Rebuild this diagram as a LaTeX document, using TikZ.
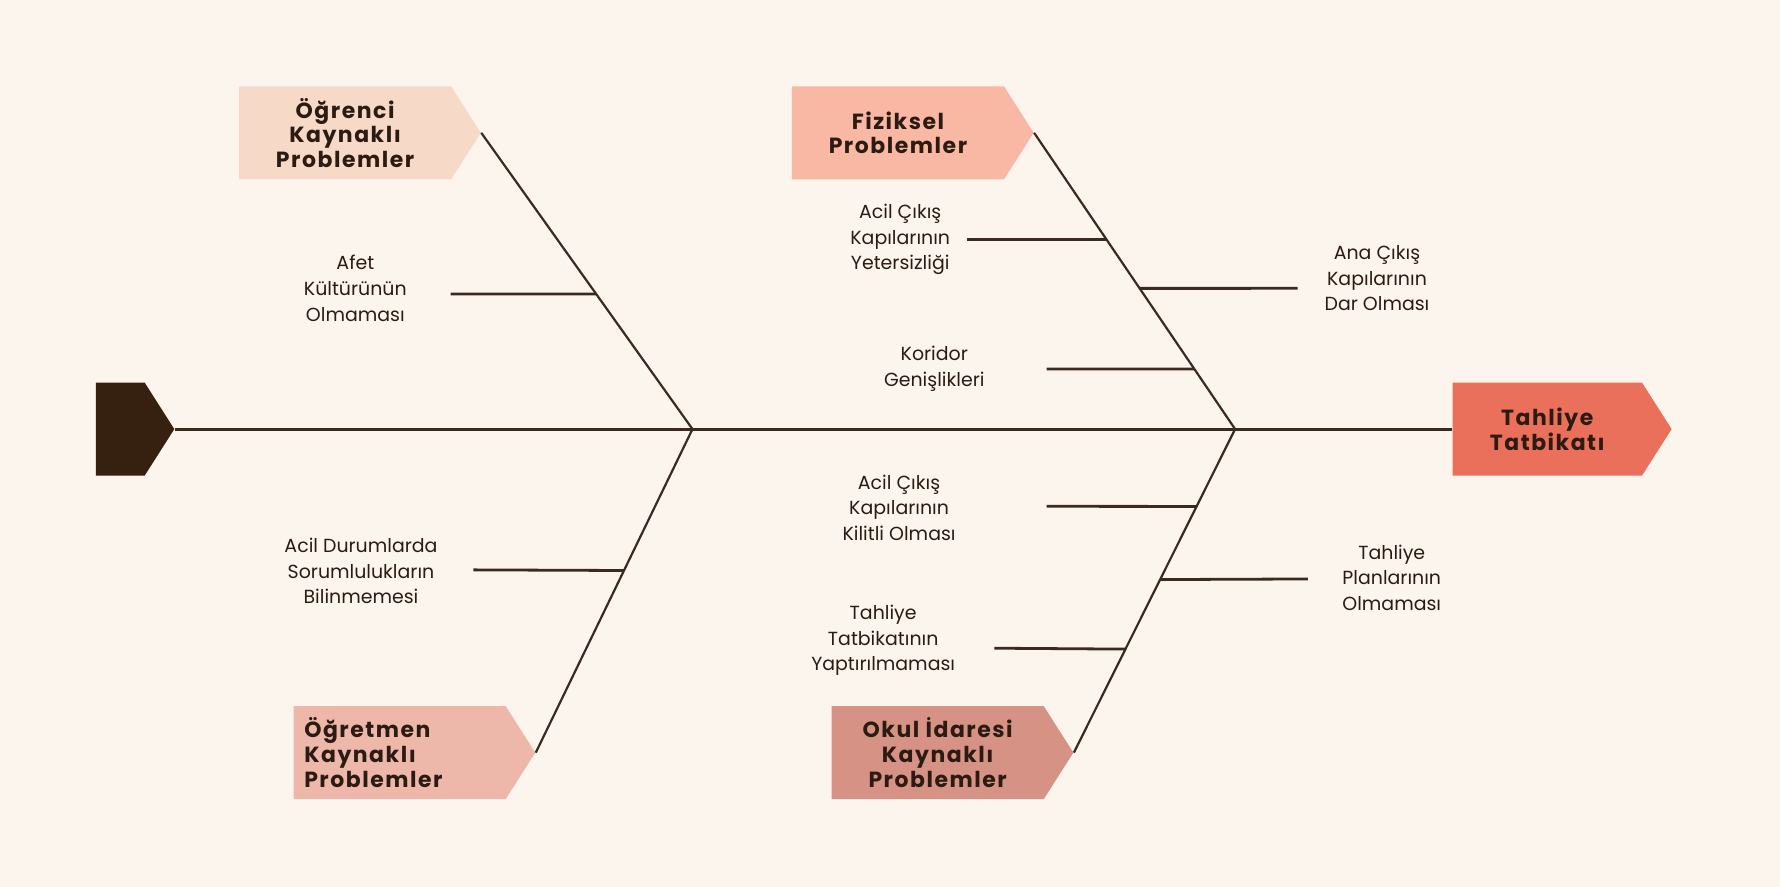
\documentclass[tikz,border=0pt]{standalone}
\usepackage{fontspec}
\setmainfont{Poppins}
\usetikzlibrary{shapes.symbols,calc}
\definecolor{paper}{HTML}{FCF5EE}
\definecolor{ink}{HTML}{2B1B12}
\definecolor{bone}{HTML}{3A2A20}
\definecolor{ogrc}{HTML}{F6D9C6}
\definecolor{fizik}{HTML}{F9B8A3}
\definecolor{ogrt}{HTML}{EDB7A9}
\definecolor{okul}{HTML}{D69284}
\definecolor{head}{HTML}{EA705B}
\definecolor{tail}{HTML}{36200F}

\begin{document}
\begin{tikzpicture}[x = 0.02cm, y = -0.02cm,
    cat/.style = {shape = signal, signal to = east, signal pointer angle = 115,
        minimum height = 1.64cm, minimum width = 4.26cm, inner sep = 0pt,
        text = ink, font = \bfseries\fontsize{11}{12.4}\selectfont\addfontfeatures{LetterSpace = 7}, align = center},
    cause/.style = {text = ink, font = \fontsize{9.5}{12.8}\selectfont, align = center, inner sep = 0pt},
    bonel/.style = {draw = bone, line width = 1.1pt},
    rib/.style = {draw = bone, line width = 1.4pt}]
    \fill[paper] (0,0) rectangle (1568,781);
    \node[cat, fill = tail, minimum width = 1.38cm] (tail) at (106,378) {};
    \node[cat, fill = head, minimum width = 3.86cm] (tahliye) at (1363,378) {Tahliye\\Tatbikatı};
    \node[cat, fill = ogrc] (ogrenci) at (304,117) {Öğrenci\\Kaynaklı\\Problemler};
    \node[cat, fill = fizik] (fiziksel) at (791,117) {Fiziksel\\Problemler};
    \node[cat, fill = ogrt, align = left, text width = 3.36cm] (ogretmen) at (352,663) {Öğretmen\\Kaynaklı\\Problemler};
    \node[cat, fill = okul] (okul) at (826,663) {Okul İdaresi\\Kaynaklı\\Problemler};
    \coordinate (j1) at (610,378);
    \coordinate (j2) at (1088,378);
    \draw[rib] (tail.east) -- (tahliye.west);
    \draw[bonel] (ogrenci.east) -- (j1);
    \draw[bonel] (ogretmen.east) -- (j1);
    \draw[bonel] (fiziksel.east) -- (j2);
    \draw[bonel] (okul.east) -- (j2);

    \node[cause] (afet) at (313,254) {Afet\\Kültürünün\\Olmaması};
    \node[cause] (sorum) at (318,503) {Acil Durumlarda\\Sorumlulukların\\Bilinmemesi};
    \node[cause] (yeter) at (793,211) {Acil Çıkış\\Kapılarının\\Yetersizliği};
    \node[cause] (dar) at (1213,245) {Ana Çıkış\\Kapılarının\\Dar Olması};
    \node[cause] (koridor) at (823,325) {Koridor\\Genişlikleri};
    \node[cause] (kilit) at (792,447) {Acil Çıkış\\Kapılarının\\Kilitli Olması};
    \node[cause] (plan) at (1226,509) {Tahliye\\Planlarının\\Olmaması};
    \node[cause] (tatbik) at (778,564) {Tahliye\\Tatbikatının\\Yaptırılmaması};

    \coordinate (afet-r) at (397,259);
    \coordinate (sorum-r) at (417,502);
    \coordinate (yeter-r) at (852,211);
    \coordinate (dar-r) at (1143,254);
    \coordinate (koridor-r) at (922,325);
    \coordinate (kilit-r) at (922,446);
    \coordinate (plan-r) at (1152,510);
    \coordinate (tatbik-r) at (876,571);
    \draw[rib] (afet-r) -- ($(ogrenci.east)!0.544!(j1)$);
    \draw[rib] (sorum-r) -- ($(ogretmen.east)!0.563!(j1)$);
    \draw[rib] (yeter-r) -- ($(fiziksel.east)!0.360!(j2)$);
    \draw[rib] (dar-r) -- ($(fiziksel.east)!0.525!(j2)$);
    \draw[rib] (koridor-r) -- ($(fiziksel.east)!0.797!(j2)$);
    \draw[rib] (kilit-r) -- ($(okul.east)!0.761!(j2)$);
    \draw[rib] (plan-r) -- ($(okul.east)!0.535!(j2)$);
    \draw[rib] (tatbik-r) -- ($(okul.east)!0.320!(j2)$);
\end{tikzpicture}
\end{document}
